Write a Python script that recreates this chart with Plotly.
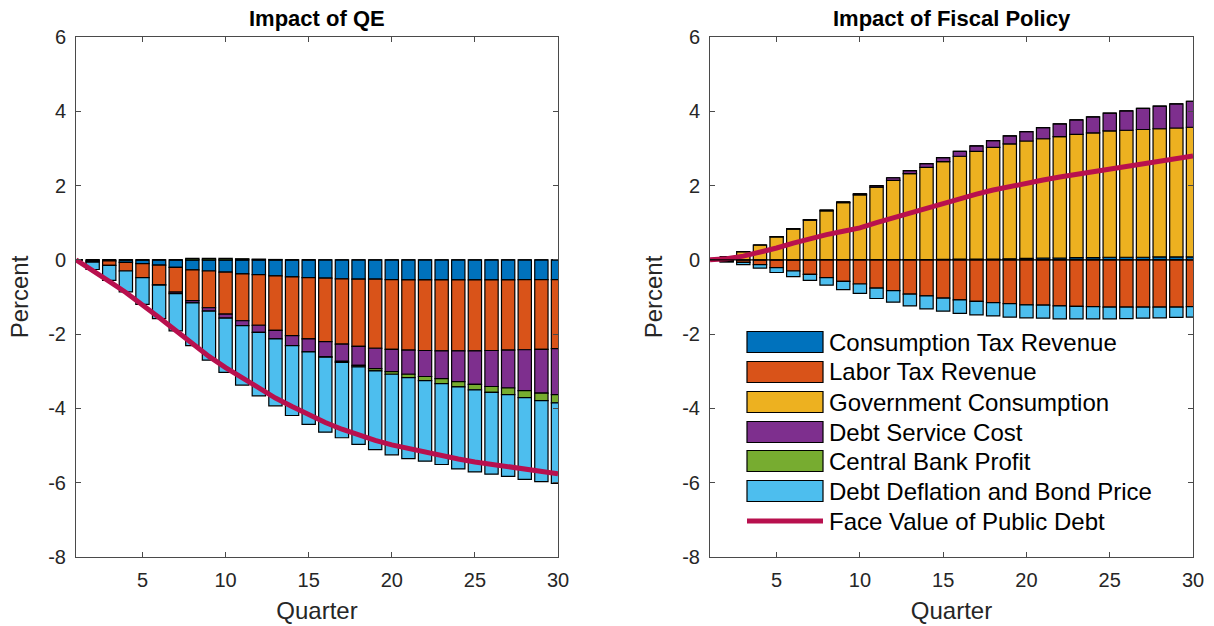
import plotly.graph_objects as go

# ---------------- data ----------------
quarters = list(range(1, 31))

series_names = [
    "Consumption Tax Revenue",
    "Labor Tax Revenue",
    "Government Consumption",
    "Debt Service Cost",
    "Central Bank Profit",
    "Debt Deflation and Bond Price",
]
line_name = "Face Value of Public Debt"

# Impact of QE (percent)
qe_consumption_tax = [0, -0.03, -0.03, -0.07, -0.10, -0.14, -0.20, -0.27, -0.30, -0.33,
                      -0.38, -0.40, -0.43, -0.46, -0.48, -0.49, -0.51, -0.52, -0.52, -0.53,
                      -0.54, -0.54, -0.54, -0.54, -0.54, -0.54, -0.54, -0.53, -0.53, -0.53]
qe_labor_tax = [0, -0.03, -0.12, -0.23, -0.38, -0.53, -0.67, -0.83, -0.99, -1.13,
                -1.26, -1.36, -1.47, -1.58, -1.65, -1.71, -1.76, -1.81, -1.86, -1.88,
                -1.89, -1.90, -1.91, -1.91, -1.91, -1.90, -1.89, -1.89, -1.88, -1.86]
qe_gov_consumption = [0] * 30
qe_debt_service = [0, 0, 0, 0, 0, -0.01, -0.04, -0.06, -0.09, -0.11,
                   -0.13, -0.19, -0.23, -0.27, -0.35, -0.41, -0.46, -0.51, -0.55, -0.60,
                   -0.65, -0.70, -0.75, -0.83, -0.90, -0.97, -1.02, -1.10, -1.18, -1.24]
qe_cb_profit = [0, 0, 0, 0, 0, 0, 0, 0.04, 0.04, 0.04,
                0.03, 0.02, 0.01, 0, 0, -0.01, -0.03, -0.04, -0.06, -0.07,
                -0.09, -0.11, -0.13, -0.14, -0.15, -0.16, -0.18, -0.19, -0.20, -0.22]
qe_debt_deflation = [0, -0.20, -0.40, -0.56, -0.72, -0.90, -1.00, -1.15, -1.32, -1.46,
                     -1.60, -1.71, -1.80, -1.88, -1.95, -2.02, -2.03, -2.09, -2.12, -2.17,
                     -2.18, -2.17, -2.18, -2.21, -2.21, -2.20, -2.20, -2.20, -2.18, -2.17]
qe_face_value = [0, -0.28, -0.58, -0.88, -1.20, -1.55, -1.90, -2.25, -2.60, -2.90,
                 -3.18, -3.45, -3.72, -3.95, -4.18, -4.38, -4.56, -4.72, -4.86, -4.98,
                 -5.08, -5.18, -5.27, -5.36, -5.44, -5.51, -5.58, -5.64, -5.70, -5.76]

# Impact of Fiscal Policy (percent)
fp_consumption_tax = [0, 0, 0, 0, 0, 0, 0, 0.01, 0.01, 0.01,
                      0.01, 0.01, 0.01, 0.01, 0.015, 0.02, 0.02, 0.02, 0.03, 0.04,
                      0.05, 0.05, 0.06, 0.06, 0.07, 0.07, 0.07, 0.08, 0.08, 0.08]
fp_labor_tax = [0, -0.04, -0.07, -0.13, -0.21, -0.30, -0.39, -0.48, -0.58, -0.65,
                -0.76, -0.83, -0.92, -0.97, -1.03, -1.08, -1.12, -1.15, -1.18, -1.21,
                -1.22, -1.24, -1.25, -1.26, -1.27, -1.27, -1.27, -1.27, -1.27, -1.26]
fp_gov_consumption = [0.01, 0.08, 0.22, 0.40, 0.62, 0.83, 1.07, 1.31, 1.53, 1.74,
                      1.95, 2.13, 2.31, 2.48, 2.63, 2.77, 2.90, 3.01, 3.09, 3.16,
                      3.21, 3.27, 3.32, 3.36, 3.40, 3.42, 3.44, 3.45, 3.47, 3.49]
fp_debt_service = [0, 0, 0, 0, 0.005, 0.01, 0.01, 0.02, 0.02, 0.03,
                   0.04, 0.07, 0.08, 0.10, 0.11, 0.13, 0.15, 0.18, 0.22, 0.25,
                   0.30, 0.34, 0.39, 0.43, 0.48, 0.52, 0.57, 0.61, 0.65, 0.70]
fp_cb_profit = [0] * 30
fp_debt_deflation = [0, -0.02, -0.06, -0.09, -0.13, -0.15, -0.16, -0.20, -0.22, -0.25,
                     -0.28, -0.31, -0.32, -0.35, -0.35, -0.36, -0.36, -0.36, -0.36, -0.35,
                     -0.35, -0.35, -0.34, -0.33, -0.32, -0.31, -0.30, -0.29, -0.28, -0.28]
fp_face_value = [0, 0.03, 0.10, 0.20, 0.32, 0.45, 0.57, 0.68, 0.77, 0.86,
                 1.00, 1.13, 1.27, 1.40, 1.53, 1.65, 1.77, 1.88, 1.98, 2.07,
                 2.15, 2.23, 2.30, 2.37, 2.45, 2.52, 2.59, 2.65, 2.72, 2.80]

x_tick_vals = [5, 10, 15, 20, 25, 30]
y_tick_vals = [-8, -6, -4, -2, 0, 2, 4, 6]
y_tick_text = ["-8", "-6", "-4", "-2", "0", "2", "4", "6"]
panel_titles = ["Impact of QE", "Impact of Fiscal Policy"]

# ---------------- styling ----------------
bar_colors = ["#0072BD", "#D95319", "#EDB120", "#7E2F8E", "#77AC30", "#4DBEEE"]
line_color = "#B8104E"
FONT = "Liberation Sans, Arial, Helvetica, sans-serif"
TEXT = "#262626"
AXIS = "#4a4a4a"

W, H = 1214, 626


def px_x(p):
    return p / W


def px_y(p):
    return 1 - p / H


fig = go.Figure()

panels = [
    ("x", "y", [qe_consumption_tax, qe_labor_tax, qe_gov_consumption,
                qe_debt_service, qe_cb_profit, qe_debt_deflation], qe_face_value),
    ("x2", "y2", [fp_consumption_tax, fp_labor_tax, fp_gov_consumption,
                  fp_debt_service, fp_cb_profit, fp_debt_deflation], fp_face_value),
]

for xa, ya, comps, face in panels:
    for name, vals, col in zip(series_names, comps, bar_colors):
        fig.add_trace(go.Bar(
            x=quarters, y=vals, name=name, xaxis=xa, yaxis=ya,
            marker=dict(color=col, line=dict(color="black", width=1.2)),
            showlegend=False,
        ))
    fig.add_trace(go.Scatter(
        x=quarters, y=face, mode="lines", name=line_name, xaxis=xa, yaxis=ya,
        line=dict(color=line_color, width=5), showlegend=False,
    ))

axis_common = dict(
    automargin=False,
    showgrid=False, zeroline=False, showline=True, linecolor=AXIS, linewidth=1,
    mirror="allticks", ticks="inside", ticklen=5, tickcolor=AXIS,
    tickfont=dict(family=FONT, size=20, color=TEXT),
)

dom_left = [px_x(76), px_x(558)]
dom_right = [px_x(710), px_x(1193)]
dom_y = [px_y(557), px_y(37)]

xaxis_cfg = dict(axis_common, range=[1, 30], tickvals=x_tick_vals, ticklabelstandoff=5,
                 title=dict(text="Quarter", font=dict(family=FONT, size=24, color=TEXT), standoff=12))
yaxis_cfg = dict(axis_common, range=[-8, 6], tickvals=y_tick_vals, ticktext=y_tick_text,
                 ticklabelstandoff=5,
                 title=dict(text="Percent", font=dict(family=FONT, size=24, color=TEXT), standoff=12))

fig.update_layout(
    template="none",
    width=W, height=H,
    margin=dict(l=0, r=0, t=0, b=0, pad=0, autoexpand=False),
    paper_bgcolor="white", plot_bgcolor="white",
    barmode="relative", bargap=0.2,
    showlegend=False,
    xaxis=dict(xaxis_cfg, domain=dom_left, anchor="y"),
    yaxis=dict(yaxis_cfg, domain=dom_y, anchor="x"),
    xaxis2=dict(xaxis_cfg, domain=dom_right, anchor="y2"),
    yaxis2=dict(yaxis_cfg, domain=dom_y, anchor="x2"),
)

# baseline of the fiscal-policy bars
fig.add_shape(type="line", xref="x2 domain", yref="y2", x0=0, x1=1, y0=0, y1=0,
              line=dict(color="black", width=1.2), layer="above")

# panel titles
for title, dom in zip(panel_titles, [dom_left, dom_right]):
    fig.add_annotation(text="<b>%s</b>" % title, xref="paper", yref="paper",
                       x=(dom[0] + dom[1]) / 2, y=px_y(18), showarrow=False,
                       xanchor="center", yanchor="middle",
                       font=dict(family=FONT, size=22, color="black"))

# legend drawn inside the fiscal-policy panel
legend_rows = [342, 372, 402, 432, 461, 491, 521]
sw_x0, sw_x1, sw_h = 747, 823, 21
for i, (name, col) in enumerate(zip(series_names, bar_colors)):
    cy = legend_rows[i]
    fig.add_shape(type="rect", xref="paper", yref="paper",
                  x0=px_x(sw_x0), x1=px_x(sw_x1),
                  y0=px_y(cy + sw_h / 2), y1=px_y(cy - sw_h / 2),
                  fillcolor=col, line=dict(color="black", width=1.2), layer="above")
    fig.add_annotation(text=name, xref="paper", yref="paper", x=px_x(827), y=px_y(cy),
                       xanchor="left", yanchor="middle", showarrow=False,
                       font=dict(family=FONT, size=24, color="black"))
cy = legend_rows[6]
fig.add_shape(type="line", xref="paper", yref="paper",
              x0=px_x(sw_x0), x1=px_x(sw_x1), y0=px_y(cy), y1=px_y(cy),
              line=dict(color=line_color, width=5), layer="above")
fig.add_annotation(text=line_name, xref="paper", yref="paper", x=px_x(827), y=px_y(cy),
                   xanchor="left", yanchor="middle", showarrow=False,
                   font=dict(family=FONT, size=24, color="black"))

fig.write_html("out.html")
